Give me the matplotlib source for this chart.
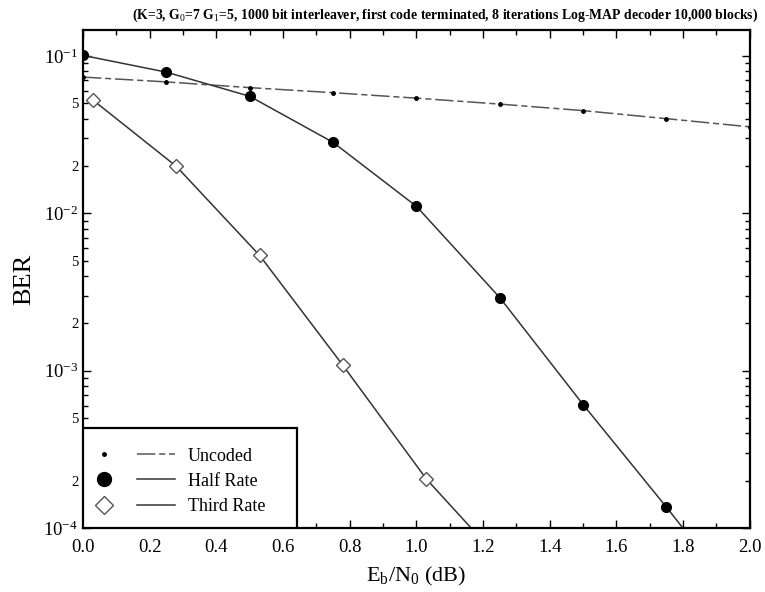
import numpy as np
import matplotlib
matplotlib.use("Agg")
import matplotlib.pyplot as plt
from matplotlib.lines import Line2D
from matplotlib.patches import Rectangle
from matplotlib.legend_handler import HandlerTuple
from matplotlib.ticker import FixedLocator, FixedFormatter

plt.rcParams['font.family'] = ['Liberation Serif', 'DejaVu Serif']
plt.rcParams['mathtext.fontset'] = 'custom'
plt.rcParams['mathtext.rm'] = 'Liberation Serif'
plt.rcParams['mathtext.it'] = 'Liberation Serif:italic'

# Eb/N0 (dB) and BER values
ebno_uncoded = [0.0, 0.25, 0.5, 0.75, 1.0, 1.25, 1.5, 1.75, 2.0]
ber_uncoded = [0.0735, 0.0685, 0.0630, 0.0585, 0.0540, 0.0495, 0.0450, 0.0400, 0.0355]

ebno_half = [0.0, 0.25, 0.5, 0.75, 1.0, 1.25, 1.5, 1.75, 2.0]
ber_half = [0.101, 0.079, 0.0555, 0.0283, 0.0111, 0.00292, 6.1e-4, 1.36e-4, 2.9e-5]

ebno_third = [0.03, 0.28, 0.53, 0.78, 1.03, 1.28]
ber_third = [0.0525, 0.0199, 0.0054, 0.00108, 2.05e-4, 5.4e-5]

title = (r"(K=3, G$_\mathrm{0}$=7 G$_\mathrm{1}$=5, 1000 bit interleaver, first code terminated, "
         "8 iterations Log-MAP decoder 10,000 blocks)")

fig = plt.figure(figsize=(7.65, 5.92), dpi=100)
ax = fig.add_axes([0.1085, 0.108, 0.8715, 0.841])

lc = '#333333'
dash = (12, 2.5, 4, 2.5)
ax.plot(ebno_uncoded, ber_uncoded, color='#555555', lw=1.1, dashes=dash,
        marker='o', ms=2.5, mfc='black', mec='black')
ax.plot(ebno_half, ber_half, color=lc, lw=1.1, marker='o', ms=7,
        mfc='black', mec='black')
ax.plot(ebno_third, ber_third, color=lc, lw=1.1, marker='D', ms=7,
        mfc='white', mec='#555555', mew=1.0)
ax.set_xlim(0, 2.0)
ax.set_ylim(1e-4, 0.146)
ax.set_yscale('log')

# y ticks
major = [1e-4, 1e-3, 1e-2, 1e-1]
ax.yaxis.set_major_locator(FixedLocator(major))
ax.yaxis.set_major_formatter(FixedFormatter(['$10^{-4}$', '$10^{-3}$', '$10^{-2}$', '$10^{-1}$']))
minor = []
minor_lab = []
for dec in [1e-4, 1e-3, 1e-2, 1e-1]:
    for m in range(2, 10):
        v = m * dec
        if v <= 0.146:
            minor.append(v)
            minor_lab.append(str(m) if m in (2, 5) else '')
ax.yaxis.set_minor_locator(FixedLocator(minor))
ax.yaxis.set_minor_formatter(FixedFormatter(minor_lab))

ax.set_xticks(np.arange(0, 2.01, 0.2))
ax.set_xticklabels(['%.1f' % v for v in np.arange(0, 2.01, 0.2)])
ax.set_xticks(np.arange(0.1, 2.0, 0.2), minor=True)

ax.tick_params(which='both', direction='in', top=True, right=True, width=1.0)
ax.tick_params(which='major', length=6, labelsize=13.5)
ax.tick_params(which='minor', length=3.5)
ax.tick_params(axis='y', which='minor', labelsize=10.5)
ax.tick_params(axis='x', which='major', pad=8)
for s in ax.spines.values():
    s.set_linewidth(1.6)

ax.set_ylabel('BER', fontsize=19, labelpad=6)
ax.set_xlabel(r'E$_\mathrm{b}$/N$_\mathrm{0}$ (dB)', fontsize=16, labelpad=6)
fig.text(0.582, 0.988, title, fontsize=9.9, ha='center', va='top', weight='bold')

# legend frame drawn as a box in axes coordinates
ax.add_patch(Rectangle((0, 0), 0.321, 0.201, transform=ax.transAxes,
                       facecolor='white', edgecolor='black', lw=1.6, zorder=4))

# legend: marker, then line, then text
h_unc = (Line2D([], [], ls='none', marker='o', ms=2.5, color='black'),
         Line2D([], [], color='#555555', lw=1.1, dashes=dash))
h_half = (Line2D([], [], ls='none', marker='o', ms=10, color='black'),
          Line2D([], [], color=lc, lw=1.1))
h_third = (Line2D([], [], ls='none', marker='D', ms=9, mfc='white', mec='#555555'),
           Line2D([], [], color=lc, lw=1.1))
leg = ax.legend([h_unc, h_half, h_third], ['Uncoded', 'Half Rate', 'Third Rate'],
                handler_map={tuple: HandlerTuple(ndivide=None, pad=0.75)},
                loc='center left', bbox_to_anchor=(0.0, 0.094), frameon=False,
                fontsize=13, handlelength=5.0, handletextpad=0.7,
                labelspacing=0.45, borderpad=0.1, borderaxespad=0)
leg.set_zorder(5)

fig.savefig('out.png', dpi=100)
